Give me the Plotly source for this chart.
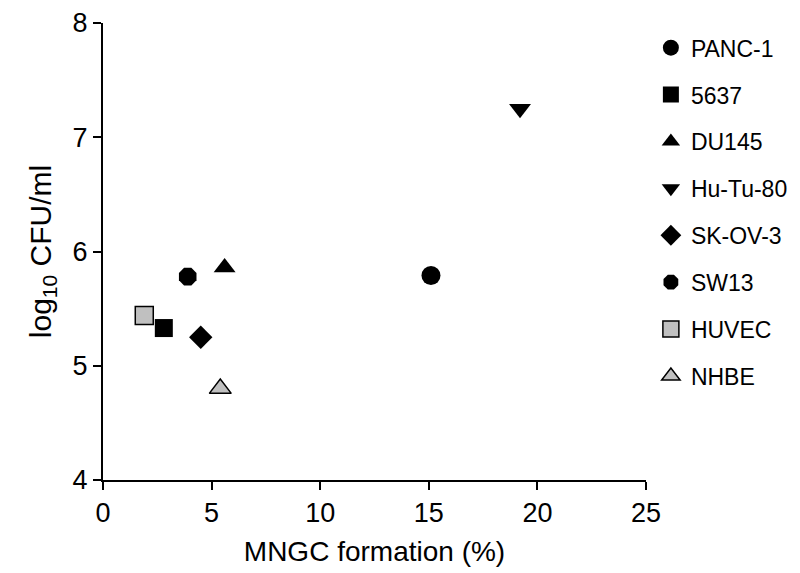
import plotly.graph_objects as go

cell_lines = ["PANC-1", "5637", "DU145", "Hu-Tu-80", "SK-OV-3", "SW13", "HUVEC", "NHBE"]
mngc_pct = [15.1, 2.8, 5.6, 19.2, 4.5, 3.9, 1.9, 5.4]
log_cfu = [5.79, 5.33, 5.86, 7.25, 5.25, 5.78, 5.44, 4.80]
symbols = ["circle", "square", "triangle-up", "triangle-down", "diamond", "octagon", "square", "triangle-up"]
fills = ["black", "black", "black", "black", "black", "black", "#c0c0c0", "#c0c0c0"]
sizes = [19, 18, 19, 19, 18, 19, 18, 19]

FONT = "Liberation Sans, Arial, sans-serif"

fig = go.Figure()
for name, x, y, sym, fc, sz in zip(cell_lines, mngc_pct, log_cfu, symbols, fills, sizes):
    fig.add_trace(go.Scatter(
        x=[x], y=[y], mode="markers", name=name, legendgroup=name,
        marker=dict(symbol=sym, size=sz, color=fc,
                    line=dict(color="black", width=1.5 if fc != "black" else 0)),
    ))

axis_common = dict(
    showline=True, linecolor="black", linewidth=2,
    ticks="outside", ticklen=8, tickwidth=2, tickcolor="black",
    showgrid=False, zeroline=False, ticklabeloverflow="allow",
    automargin=False,
    tickfont=dict(family=FONT, size=27, color="black"),
)

fig.update_layout(
    width=800, height=573,
    margin=dict(l=95, r=162, t=15, b=101),
    paper_bgcolor="white", plot_bgcolor="white",
    font=dict(family=FONT, color="black"),
    xaxis=dict(range=[0, 25], tickvals=[0, 5, 10, 15, 20, 25],
               title=dict(text="MNGC formation (%)", font=dict(family=FONT, size=28), standoff=14),
               **axis_common),
    yaxis=dict(range=[4, 8], tickvals=[4, 5, 6, 7, 8],
               title=dict(text="log<sub>10</sub> CFU/ml", font=dict(family=FONT, size=30), standoff=12),
               **axis_common),
    legend=dict(x=1.009, y=0.993, xanchor="left", yanchor="top",
                font=dict(family=FONT, size=23, color="black"),
                tracegroupgap=14, itemwidth=30, bgcolor="rgba(0,0,0,0)"),
    showlegend=True,
)

fig.write_html("out.html")
